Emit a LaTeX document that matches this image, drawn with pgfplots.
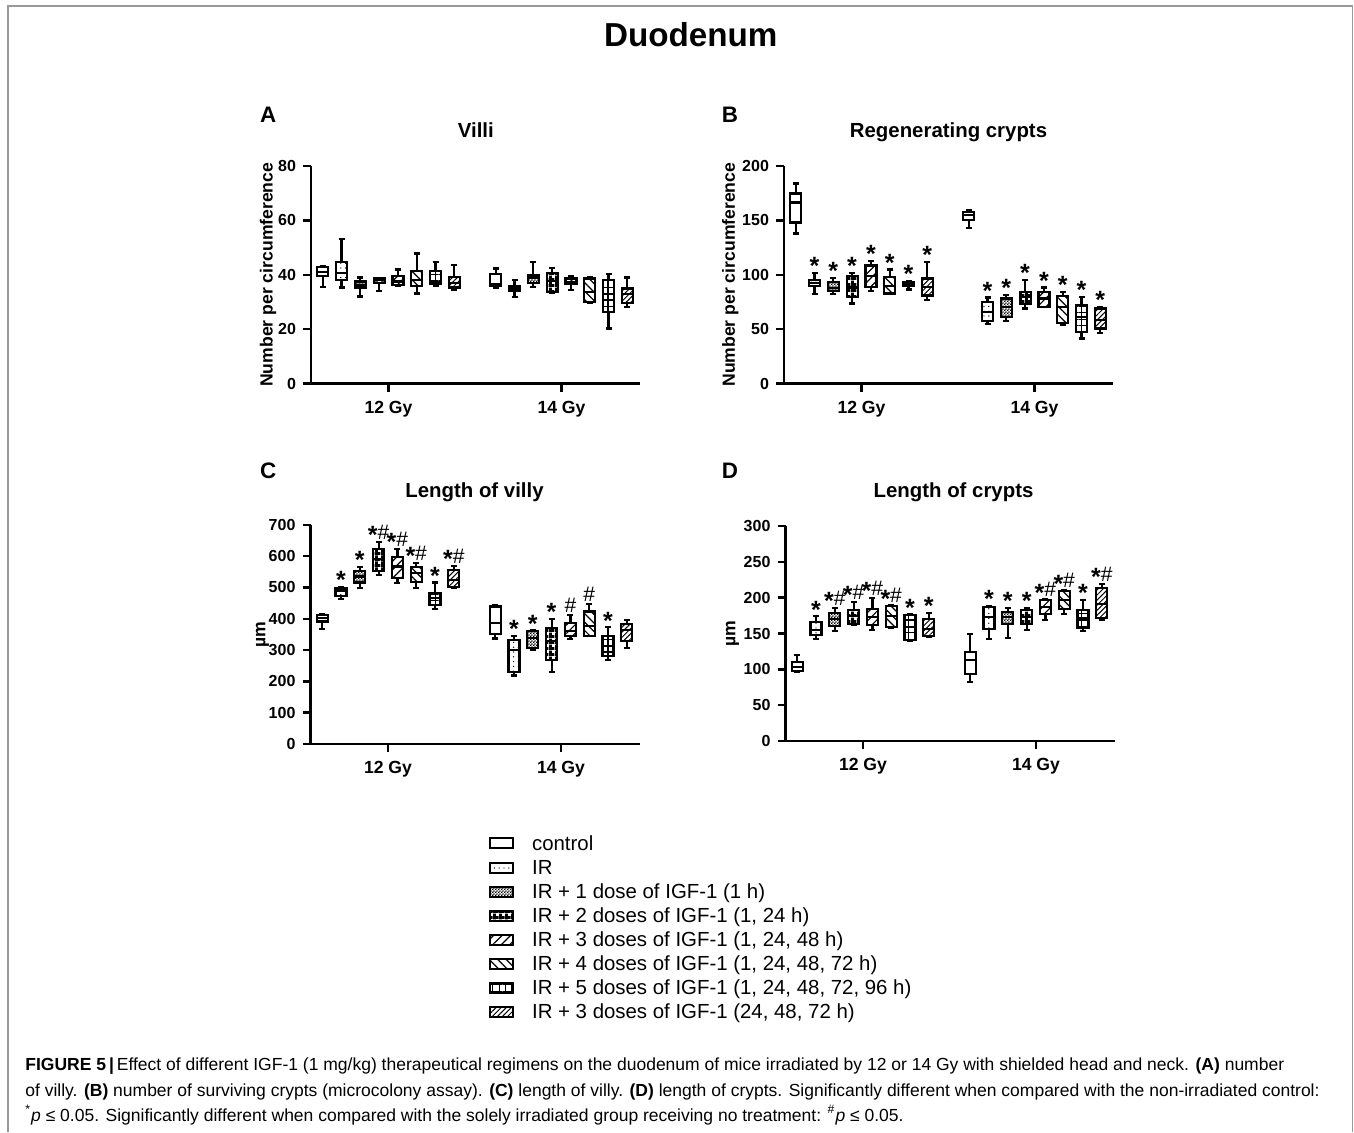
\documentclass[border=0pt]{standalone}
\usepackage{pgfplots}
\pgfplotsset{compat=1.18}
\usepgfplotslibrary{statistics}
\usetikzlibrary{patterns,patterns.meta}
\usepackage{fontspec}
\setmainfont{Liberation Sans}

\pgfdeclarepatternformonly{finecheck}{\pgfpointorigin}{\pgfqpoint{1.6pt}{1.6pt}}{\pgfqpoint{1.6pt}{1.6pt}}{%
 \pgfpathrectangle{\pgfpointorigin}{\pgfqpoint{0.8pt}{0.8pt}}%
 \pgfpathrectangle{\pgfqpoint{0.8pt}{0.8pt}}{\pgfqpoint{0.8pt}{0.8pt}}%
 \pgfusepath{fill}}
\pgfdeclarepatternformonly{midcheck}{\pgfpointorigin}{\pgfqpoint{2.8pt}{2.8pt}}{\pgfqpoint{2.8pt}{2.8pt}}{%
 \pgfpathrectangle{\pgfpointorigin}{\pgfqpoint{2.85pt}{1.5pt}}%
 \pgfpathrectangle{\pgfqpoint{0pt}{1.45pt}}{\pgfqpoint{1.5pt}{1.4pt}}%
 \pgfusepath{fill}}

\tikzset{
 g1/.style={},
 g2/.style={pattern={Dots[distance=2.4pt,radius=0.35pt]}},
 g3/.style={pattern=finecheck},
 g4/.style={pattern=midcheck},
 g5/.style={pattern={Lines[angle=45,distance=3pt,line width=0.6pt]}},
 g6/.style={pattern={Lines[angle=-45,distance=3pt,line width=0.6pt]}},
 g7/.style={pattern={Hatch[angle=0,distance=3.2pt,line width=0.6pt]}},
 g8/.style={pattern={Lines[angle=45,distance=1.8pt,line width=0.5pt]}},
 mk/.style={anchor=base, inner sep=0pt},
}

\newcommand{\bx}[7]{\addplot[black, line width=1.1pt, boxplot/every box/.style={/tikz/#7}, boxplot prepared={draw position=#1, lower whisker=#2, lower quartile=#3, median=#4, upper quartile=#5, upper whisker=#6}] coordinates {};}
\newcommand{\mk}[3]{\node[mk] at (axis cs:#1,#2) {#3};}
\newcommand{\st}{{\fontsize{12.5}{13}\bfseries\selectfont\raisebox{-0.9pt}{*}}}
\newcommand{\hs}{{\fontsize{10.5}{12}\selectfont\raisebox{1.3pt}{\#}}}

\pgfplotsset{
 gp/.style={
  scale only axis, width=164.5pt, xmin=0, xmax=329, ymin=0,
  axis x line*=bottom, axis y line*=left,
  axis line style={line width=1.3pt, black},
  every tick/.style={line width=1.2pt, black},
  tick align=outside, major tick length=4pt,
  xtick={77.5,250.5}, xticklabels={12 Gy,14 Gy},
  x tick label style={font=\bfseries\fontsize{8.8}{10}\selectfont, yshift=-1.3pt},
  y tick label style={font=\bfseries\fontsize{8}{9}\selectfont},
  /pgf/number format/assume math mode=true,
  ylabel style={font=\bfseries\fontsize{8.8}{10}\selectfont},
  clip=false,
  boxplot/draw direction=y,
  boxplot/box extend=11, boxplot/whisker extend=6,
 }
}

\begin{document}
\begin{tikzpicture}
\path[use as bounding box] (0,0) rectangle (677pt,566pt);

% ---------- Panel A ----------
\begin{axis}[gp, at={(155.5pt,374.25pt)}, anchor=south west, height=108.8pt,
  ymax=80, ytick={0,20,40,60,80}, ylabel={Number per circumference},
  ylabel style={at={(axis description cs:-0.1307,0.5)}, anchor=center}]
\bx{11.7}{35.5}{39.5}{41}{42.8}{43.2}{g1}
\bx{30.5}{35.3}{38.2}{40.5}{44.7}{53}{g2}
\bx{49.3}{32}{35.3}{36.2}{37.5}{39}{g3}
\bx{68.1}{34}{37}{38}{38.6}{38.8}{g4}
\bx{86.9}{35.8}{36.2}{37.5}{39.6}{41.9}{g5}
\bx{105.7}{33.1}{35.8}{38}{41.5}{47.8}{g6}
\bx{124.5}{35.8}{36.5}{37.3}{41.4}{44.7}{g7}
\bx{143.3}{34.5}{35.3}{37}{39.2}{43.7}{g8}
\bx{184.7}{35.3}{35.8}{36.5}{40.2}{42.3}{g1}
\bx{203.5}{31.9}{34}{34.9}{35.8}{38.2}{g2}
\bx{222.3}{35.5}{37}{39}{39.8}{44.7}{g3}
\bx{241.1}{33.3}{33.7}{37.7}{40.7}{42.6}{g4}
\bx{259.9}{34.5}{36.5}{37.4}{38.6}{39.4}{g5}
\bx{278.7}{29.6}{29.9}{33.7}{38.6}{39}{g6}
\bx{297.5}{20.2}{26.3}{32.8}{38.2}{40.2}{g7}
\bx{316.3}{28.2}{29.6}{32.8}{34.9}{39}{g8}
\end{axis}

% ---------- Panel B ----------
\begin{axis}[gp, at={(392pt,374.25pt)}, anchor=south west, height=108.8pt,
  ymax=200, ytick={0,50,100,150,200}, ylabel={Number per circumference},
  ylabel style={at={(axis description cs:-0.1629,0.5)}, anchor=center}]
\bx{11.7}{137.8}{147.9}{166.3}{174.6}{183.8}{g1}
\bx{30.5}{82.1}{89.4}{92.5}{95}{101.7}{g2}
\bx{49.3}{82}{85}{88}{93.5}{97}{g3}
\bx{68.1}{73.5}{79.6}{88.2}{98.6}{101.7}{g4}
\bx{86.9}{85.1}{88.8}{98.6}{108.4}{112.7}{g5}
\bx{105.7}{82}{82.7}{89.4}{98}{104.7}{g6}
\bx{124.5}{86.4}{89.4}{91.3}{93.4}{94.3}{g7}
\bx{143.3}{76.6}{80.9}{88.8}{96.5}{111.8}{g8}
\bx{184.7}{143}{150}{154.7}{157.7}{159.3}{g1}
\bx{203.5}{54.5}{57.6}{65.8}{75}{79}{g2}
\bx{222.3}{57.6}{61.3}{70.4}{78.1}{81.2}{g3}
\bx{241.1}{68.9}{72.9}{79.6}{84.2}{95}{g4}
\bx{259.9}{70}{70.6}{78.1}{84.2}{88.2}{g5}
\bx{278.7}{53.6}{55.7}{70.4}{80.6}{84.2}{g6}
\bx{297.5}{41.3}{47.5}{61.3}{72}{79.6}{g7}
\bx{316.3}{46.6}{50.5}{58.2}{68.9}{70.4}{g8}
\mk{30.5}{101.7}{\st}\mk{49.3}{97}{\st}\mk{68.1}{101.7}{\st}\mk{86.9}{112.7}{\st}
\mk{105.7}{104.7}{\st}\mk{124.5}{94.3}{\st}\mk{143.3}{111.8}{\st}
\mk{203.5}{79}{\st}\mk{222.3}{81.2}{\st}\mk{241.1}{95}{\st}\mk{259.9}{88.2}{\st}
\mk{278.7}{84.2}{\st}\mk{297.5}{79.6}{\st}\mk{316.3}{70.4}{\st}
\end{axis}

% ---------- Panel C ----------
\begin{axis}[gp, at={(155.25pt,194pt)}, anchor=south west, height=109.6pt,
  ymax=700, ytick={0,100,200,300,400,500,600,700}, ylabel={µm},
  ylabel style={at={(axis description cs:-0.1459,0.5)}, anchor=center}]
\bx{11.7}{367}{391}{402}{413}{416}{g1}
\bx{30.5}{463}{473}{490}{498}{501}{g2}
\bx{49.3}{498}{516}{535}{553}{565}{g3}
\bx{68.1}{540}{553}{590}{623}{646}{g4}
\bx{86.9}{514}{530}{567}{597}{623}{g5}
\bx{105.7}{497}{517}{546}{565}{578}{g6}
\bx{124.5}{432}{444}{466}{482}{516}{g7}
\bx{143.3}{498}{501}{524}{556}{569}{g8}
\bx{184.7}{337}{352}{386}{439}{445}{g1}
\bx{203.5}{219}{229}{301}{333}{346}{g2}
\bx{222.3}{299}{306}{338}{360}{363}{g3}
\bx{241.1}{229}{269}{328}{370}{399}{g4}
\bx{259.9}{335}{346}{360}{386}{413}{g5}
\bx{278.7}{344}{346}{376}{423}{448}{g6}
\bx{297.5}{267}{280}{312}{346}{373}{g7}
\bx{316.3}{306}{328}{365}{384}{395}{g8}
\mk{30.5}{501}{\st}\mk{49.3}{565}{\st}\mk{68.1}{646}{\st\hs}\mk{86.9}{623}{\st\hs}
\mk{105.7}{578}{\st\hs}\mk{124.5}{516}{\st}\mk{143.3}{569}{\st\hs}
\mk{203.5}{346}{\st}\mk{222.3}{363}{\st}\mk{241.1}{399}{\st}\mk{259.9}{413}{\hs}
\mk{278.7}{448}{\hs}\mk{297.5}{373}{\st}
\end{axis}

% ---------- Panel D ----------
\begin{axis}[gp, at={(392.75pt,195.5pt)}, anchor=south west, height=107.5pt,
  ymax=300, ytick={0,50,100,150,200,250,300}, ylabel={µm},
  ylabel style={at={(axis description cs:-0.1611,0.5)}, anchor=center}]
\bx{11.7}{96.3}{97.7}{103}{110}{119.5}{g1}
\bx{30.5}{142.8}{147.4}{154.4}{166}{174}{g2}
\bx{49.3}{153.5}{160}{170.7}{179}{185.6}{g3}
\bx{68.1}{162.3}{163.7}{174}{183}{194}{g4}
\bx{86.9}{155.3}{161.4}{173}{184.7}{199.5}{g5}
\bx{105.7}{158}{159}{174}{188.4}{189.3}{g6}
\bx{124.5}{139}{141.4}{159}{175.3}{176.7}{g7}
\bx{143.3}{145}{146}{156.7}{170.7}{179}{g8}
\bx{184.7}{82.3}{94}{113.5}{124.2}{148.8}{g1}
\bx{203.5}{142.8}{156.7}{173}{187}{188.4}{g2}
\bx{222.3}{144.2}{163.7}{173}{180}{185.6}{g3}
\bx{241.1}{155.3}{163.7}{173}{182.3}{185.6}{g4}
\bx{259.9}{169.3}{176.7}{187}{196.3}{197.7}{g5}
\bx{278.7}{176.7}{184.7}{196.3}{208.8}{210}{g6}
\bx{297.5}{153.5}{158}{172}{183}{197}{g7}
\bx{316.3}{169.3}{172}{191.6}{214}{219.5}{g8}
\mk{30.5}{174}{\st}\mk{49.3}{185.6}{\st\hs}\mk{68.1}{194}{\st\hs}\mk{86.9}{199.5}{\st\hs}
\mk{105.7}{189.3}{\st\hs}\mk{124.5}{176.7}{\st}\mk{143.3}{179}{\st}
\mk{203.5}{188.4}{\st}\mk{222.3}{185.6}{\st}\mk{241.1}{185.6}{\st}\mk{259.9}{197.7}{\st\hs}
\mk{278.7}{210}{\st\hs}\mk{297.5}{197}{\st}\mk{316.3}{219.5}{\st\hs}
\end{axis}

% ---------- decorations in pixel coordinates ----------
\begin{scope}[yshift=566pt, x=0.5pt, y=-0.5pt]
\draw[gray!80, line width=0.6pt] (8,1132) -- (8,6) -- (1352.5,6) -- (1352.5,1132);
\node[anchor=base, inner sep=0pt, font=\bfseries\fontsize{16.6}{20}\selectfont] at (690.8,46.7) {Duodenum};
\foreach \lx/\ly/\lt in {268.3/122.7/A, 730/122.7/B, 268.3/478.5/C, 730/478.5/D}
  \node[anchor=base, inner sep=0pt, font=\bfseries\fontsize{11.2}{13}\selectfont] at (\lx,\ly) {\lt};
\node[anchor=base, inner sep=0pt, font=\bfseries\fontsize{10.2}{12}\selectfont] at (475.8,137.3) {Villi};
\node[anchor=base, inner sep=0pt, font=\bfseries\fontsize{10.2}{12}\selectfont] at (948.5,137.3) {Regenerating crypts};
\node[anchor=base, inner sep=0pt, font=\bfseries\fontsize{10.2}{12}\selectfont] at (474.5,497.5) {Length of villy};
\node[anchor=base, inner sep=0pt, font=\bfseries\fontsize{10.2}{12}\selectfont] at (953.5,497.5) {Length of crypts};
% legend
\tikzset{lt/.style={anchor=base west, inner sep=0pt, font=\fontsize{10.2}{12}\selectfont}}
\draw[line width=1pt, g1] (490,838) rectangle (513,848);   \node[lt] at (531.7,850.3) {control};
\draw[line width=1pt, g2] (490,862.5) rectangle (513,872.5); \node[lt] at (531.7,874.8) {IR};
\draw[line width=1pt, g3] (490,886.5) rectangle (513,896.5); \node[lt] at (531.7,898.8) {IR + 1 dose of IGF-1 (1 h)};
\draw[line width=1pt, g4] (490,910.5) rectangle (513,920.5); \node[lt] at (531.7,922.8) {IR + 2 doses of IGF-1 (1, 24 h)};
\draw[line width=1pt, g5] (490,934.5) rectangle (513,944.5); \node[lt] at (531.7,946.8) {IR + 3 doses of IGF-1 (1, 24, 48 h)};
\draw[line width=1pt, g6] (490,958.5) rectangle (513,968.5); \node[lt] at (531.7,970.8) {IR + 4 doses of IGF-1 (1, 24, 48, 72 h)};
\draw[line width=1pt, g7] (490,982.5) rectangle (513,992.5); \node[lt] at (531.7,994.8) {IR + 5 doses of IGF-1 (1, 24, 48, 72, 96 h)};
\draw[line width=1pt, g8] (490,1006.5) rectangle (513,1016.5); \node[lt] at (531.7,1018.8) {IR + 3 doses of IGF-1 (24, 48, 72 h)};
% caption
\tikzset{cp/.style={anchor=base west, inner sep=0pt, font=\fontsize{8.75}{10}\selectfont}}
\node[cp] at (25,1070) {\textbf{FIGURE 5}\,\textbf{|}\,Effect of different IGF-1 (1 mg/kg) therapeutical regimens on the duodenum of mice irradiated by 12 or 14 Gy with shielded head and neck. \textbf{(A)} number};
\node[cp] at (25,1096) {of villy. \textbf{(B)} number of surviving crypts (microcolony assay). \textbf{(C)} length of villy. \textbf{(D)} length of crypts. Significantly different when compared with the non-irradiated control:};
\node[cp] at (25,1121) {\textsuperscript{*}\textit{p} ≤ 0.05. Significantly different when compared with the solely irradiated group receiving no treatment: \textsuperscript{\#}\textit{p} ≤ 0.05.};
\end{scope}
\end{tikzpicture}
\end{document}
